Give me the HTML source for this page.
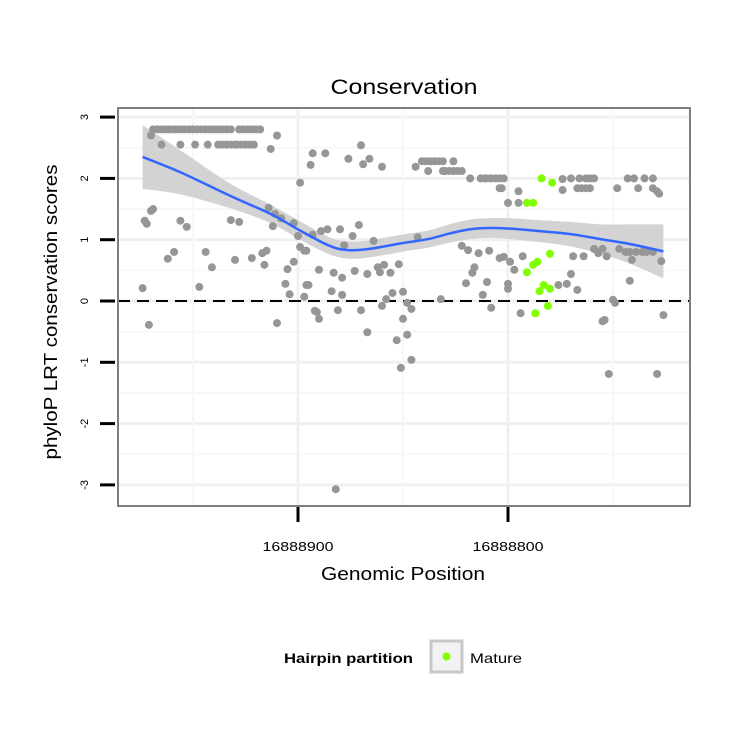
<!DOCTYPE html>
<html><head><meta charset="utf-8"><style>
body{margin:0;background:#fff;}
svg{display:block;font-family:"Liberation Sans",sans-serif;}
</style></head><body>
<svg id="chart" width="750" height="750" viewBox="0 0 750 750"></svg>
<script>
const BASE = 16888000;
const grayPos = [969,967,965,963,961,959,958,956,954,952,950,948,946,944,942,940,938,936,934,932,928,926,924,922,920,918,
970,965,956,949,943,938,936,934,932,930,929,927,925,923,921,
910,913,893,894,899,969,970,973,972,956,953,932,928,914,911,908,902,912,900,899,896,959,962,944,941,930,922,917,915,916,902,905,906,895,904,897,974,947,971,910,892,882,
887,876,870,866,869,860,844,841,839,837,835,833,831,826,838,831,830,828,826,824,822,818,813,811,810,808,806,804,804,
893,889,886,880,871,874,878,864,897,890,883,879,873,867,862,861,859,856,852,896,884,879,855,850,858,860,848,846,870,881,891,890,850,867,853,848,846,851,
843,832,822,819,814,809,804,816,817,820,810,812,808,
802,774,770,766,763,761,759,743,740,735,731,803,795,774,767,765,763,761,748,738,731,729,728,800,795,
802,799,793,797,769,764,759,755,757,753,747,744,742,741,739,736,734,731,727,770,742,800,800,776,772,767,794,750,749,755,754,726,752,729];
const grayVal = [2.8,2.8,2.8,2.8,2.8,2.8,2.8,2.8,2.8,2.8,2.8,2.8,2.8,2.8,2.8,2.8,2.8,2.8,2.8,2.8,2.8,2.8,2.8,2.8,2.8,2.8,
2.7,2.55,2.55,2.55,2.55,2.55,2.55,2.55,2.55,2.55,2.55,2.55,2.55,2.55,2.55,
2.7,2.48,2.41,2.22,1.93,1.5,1.47,1.31,1.26,1.31,1.21,1.32,1.29,1.52,1.42,1.35,1.27,1.22,1.06,0.88,0.82,0.8,0.69,0.8,0.55,0.67,0.7,0.78,0.82,0.59,0.64,0.52,0.28,0.26,0.11,0.07,0.21,0.23,-0.39,-0.36,-0.16,-3.07,
2.41,2.32,2.54,2.32,2.23,2.19,2.19,2.28,2.28,2.28,2.28,2.28,2.28,2.28,2.12,2.12,2.12,2.12,2.12,2.12,2.12,2.0,2.0,2.0,2.0,2.0,2.0,2.0,1.84,
1.08,1.14,1.17,1.17,1.24,1.06,0.91,0.98,0.82,0.51,0.46,0.38,0.49,0.44,0.55,0.47,0.59,0.46,0.6,0.26,0.16,0.1,0.13,0.15,0.03,-0.08,-0.03,-0.13,-0.15,-0.15,-0.18,-0.29,-0.29,-0.51,-0.64,-0.55,-0.96,-1.09,
1.04,0.03,0.9,0.83,0.78,0.82,0.7,0.55,0.46,0.29,0.31,0.1,-0.11,
2.0,1.99,2.0,2.0,2.0,2.0,2.0,2.0,2.0,2.0,2.0,1.84,1.79,1.81,1.84,1.84,1.84,1.84,1.84,1.84,1.84,1.79,1.75,1.6,1.6,
0.72,0.64,0.73,0.51,0.73,0.73,0.85,0.85,0.78,0.73,0.85,0.8,0.8,0.67,0.8,0.8,0.8,0.8,0.65,0.44,0.33,0.28,0.2,0.26,0.28,0.18,-0.2,0.02,-0.03,-0.33,-0.31,-0.23,-1.19,-1.19];
const greenPos = [784,779,791,788,780,786,788,791,783,785,780,781,787];
const greenVal = [2.0,1.93,1.6,1.6,0.77,0.64,0.59,0.47,0.26,0.16,0.2,-0.08,-0.2];
const fitPos = [974,956,932,913,899,885,876,866,851,838,828,818,809,799,785,770,756,742,726];
const fitVal = [2.35,2.10,1.71,1.42,1.15,0.90,0.83,0.85,0.94,1.01,1.10,1.17,1.19,1.18,1.14,1.09,1.01,0.93,0.81];
const fitSe = [0.52,0.36,0.2,0.15,0.15,0.14,0.14,0.14,0.14,0.14,0.15,0.16,0.16,0.17,0.18,0.2,0.24,0.32,0.44];
const yTicks = [3,2,1,0,-1,-2,-3];
const yTickLabels = ["3","2","1","0","-1","-2","-3"];
const xTicks = [16888900,16888800];
const xTickLabels = ["16888900","16888800"];

const L=118,R=690,T=108,B=506;
const xs = p => 298 + (16888900 - p) * 2.1;
const ys = v => 301 - v * 61.3;
const NS="http://www.w3.org/2000/svg";
const svg=document.getElementById('chart');
function mk(tag,attrs,parent){const e=document.createElementNS(NS,tag);for(const k in attrs)e.setAttribute(k,attrs[k]);(parent||svg).appendChild(e);return e;}
function smooth(pts,move){let d=(move?'M':'L')+pts[0][0]+','+pts[0][1];
  for(let i=0;i<pts.length-1;i++){const p0=pts[i-1]||pts[i],p1=pts[i],p2=pts[i+1],p3=pts[i+2]||p2;
    d+='C'+(p1[0]+(p2[0]-p0[0])/6)+','+(p1[1]+(p2[1]-p0[1])/6)+' '+(p2[0]-(p3[0]-p1[0])/6)+','+(p2[1]-(p3[1]-p1[1])/6)+' '+p2[0]+','+p2[1];}
  return d;}

const grid=mk('g',{});


[2.5,1.5,0.5,-0.5,-1.5,-2.5].forEach(v=>mk('line',{x1:L,x2:R,y1:ys(v),y2:ys(v),stroke:'#f7f7f7','stroke-width':2},grid));
yTicks.forEach(v=>mk('line',{x1:L,x2:R,y1:ys(v),y2:ys(v),stroke:'#f0f0f0','stroke-width':3},grid));
[16888850,16888950,16888750].forEach(p=>{const x=xs(p);if(x>L&&x<R)mk('line',{x1:x,x2:x,y1:T,y2:B,stroke:'#f7f7f7','stroke-width':2},grid);});
xTicks.forEach(p=>mk('line',{x1:xs(p),x2:xs(p),y1:T,y2:B,stroke:'#f0f0f0','stroke-width':3},grid));

const upPts=fitPos.map((p,i)=>[xs(BASE+p),ys(fitVal[i]+fitSe[i])]);
const loPts=fitPos.map((p,i)=>[xs(BASE+p),ys(fitVal[i]-fitSe[i])]).reverse();
const band=mk('path',{d:smooth(upPts,true)+smooth(loPts,false)+'Z',fill:'#d3d3d3'});



const zero=mk('line',{x1:L,x2:R,y1:ys(0),y2:ys(0),stroke:'#000','stroke-width':2,'stroke-dasharray':'12,7'});



const gg=mk('g',{});


grayPos.forEach((p,i)=>{const c=mk('circle',{cx:xs(BASE+p),cy:ys(grayVal[i]),r:4,fill:'#969696'},gg);

});

const fitPts=fitPos.map((p,i)=>[xs(BASE+p),ys(fitVal[i])]);
const fit=mk('path',{d:smooth(fitPts,true),fill:'none',stroke:'#3366ff','stroke-width':2.5,'stroke-linejoin':'round'});



const gr=mk('g',{});


greenPos.forEach((p,i)=>{const c=mk('circle',{cx:xs(BASE+p),cy:ys(greenVal[i]),r:4,fill:'#7fff00'},gr);

});

const border=mk('rect',{x:L,y:T,width:R-L,height:B-T,fill:'none',stroke:'#7f7f7f','stroke-width':2});



yTicks.forEach((v,i)=>{
  mk('line',{x1:100,x2:115,y1:ys(v),y2:ys(v),stroke:'#000','stroke-width':3});
  const t=mk('text',{x:0,y:0,'font-size':11,'text-anchor':'middle',transform:`translate(88,${ys(v)}) rotate(-90)`});
  t.textContent=yTickLabels[i];
  
  
});
xTicks.forEach((p,i)=>{
  mk('line',{x1:xs(p),x2:xs(p),y1:507,y2:522,stroke:'#000','stroke-width':3});
  const t=mk('text',{x:xs(p),y:551,'font-size':13,'text-anchor':'middle',textLength:71,lengthAdjust:'spacingAndGlyphs'});
  t.textContent=xTickLabels[i];
  
  
});
</script>
<svg style="position:absolute;left:0;top:0" width="750" height="750">
<text x="404" y="94" font-size="21" text-anchor="middle" textLength="147" lengthAdjust="spacingAndGlyphs" font-family="Liberation Sans,sans-serif">Conservation</text>
<text transform="translate(57,312) rotate(-90)" font-size="18" text-anchor="middle" textLength="295" lengthAdjust="spacingAndGlyphs" font-family="Liberation Sans,sans-serif">phyloP LRT conservation scores</text>
<text x="403" y="580" font-size="18" text-anchor="middle" textLength="164" lengthAdjust="spacingAndGlyphs" font-family="Liberation Sans,sans-serif">Genomic Position</text>
<g>
<text x="284" y="663" font-size="14" font-weight="bold" textLength="129" lengthAdjust="spacingAndGlyphs" font-family="Liberation Sans,sans-serif">Hairpin partition</text>
<rect x="431" y="641" width="31" height="31" fill="#f2f2f2" stroke="#c8c8c8" stroke-width="3"/>
<circle cx="446.5" cy="656.5" r="4" fill="#7fff00"/>
<text x="470" y="663" font-size="14" textLength="52" lengthAdjust="spacingAndGlyphs" font-family="Liberation Sans,sans-serif">Mature</text>
</g>
</svg>
</body></html>
